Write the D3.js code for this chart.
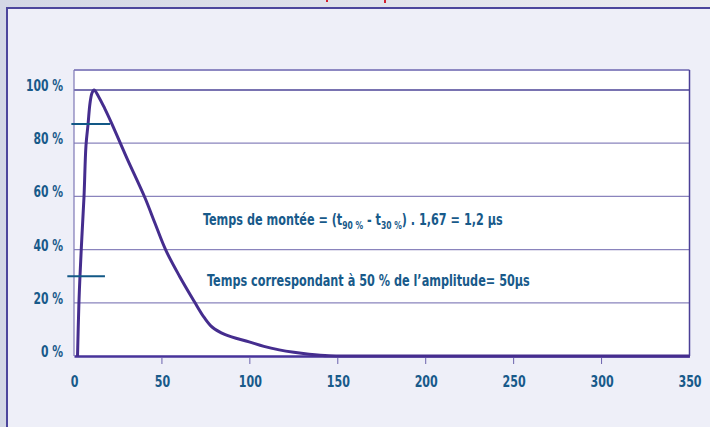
<!DOCTYPE html>
<html>
<head>
<meta charset="utf-8">
<script src="https://cdn.jsdelivr.net/npm/d3@7"></script>
<style>
  body { margin: 0; padding: 0; }
  svg { display: block; }
  text { font-family: "DejaVu Sans Condensed", "Liberation Sans Narrow", sans-serif; font-weight: bold; fill: #185a8a; }
</style>
</head>
<body>
<div id="vis"></div>
<script>
// curve: time (µs) vs amplitude (%)
var timeUs =       [2, 2.8, 3.4, 4.5, 5.7, 6.8, 8,    9.1, 10.2, 11.4, 14,   17.5, 21.6, 30,   40.4, 46, 52.2, 60, 68.3, 74, 78.5, 86,  99.6, 108, 116.7, 125, 133.7, 145, 160, 200, 250, 300, 350];
var amplitudePct = [0, 20,  30,  45,  60,  79,  87.2, 95,  98.8, 100,  97.5, 93,   87.2, 74.5, 59.4, 50, 39.8, 30, 20.6, 14.5, 10.9, 8,   5.3,  3.6, 2.3,   1.4, 0.7,   0.1, 0,   0,   0,   0,   0];

var yTicks = [0, 20, 40, 60, 80, 100];
var xTicks = [0, 50, 100, 150, 200, 250, 300, 350];

// the two short level marks (amplitude %, from time, to time)
var markLevels = [87.2, 30];
var markFrom = [-1.5, -3.8];
var markTo = [20.5, 17.6];

var W = 710, H = 427;
var plotLeft = 74, plotRight = 689.5, plotTop = 70, plotBottom = 356;

var x = d3.scaleLinear().domain([0, 350]).range([plotLeft, plotRight]);
var y = d3.scaleLinear().domain([0, 100]).range([plotBottom, 90]);

// condensed look: squeeze a text horizontally
function narrow(sel, k) {
  sel.each(function() {
    var w = this.getComputedTextLength();
    d3.select(this).attr("textLength", w * k).attr("lengthAdjust", "spacingAndGlyphs");
  });
}

// squeeze a whole group so that it is `width` wide, starting at (x0, y0)
function fitWidth(g, x0, y0, width) {
  var b = g.node().getBBox();
  g.attr("transform", "translate(" + x0 + "," + y0 + ") scale(" + (width / b.width) + ",1)");
}

var svg = d3.select("#vis").append("svg")
    .attr("width", W)
    .attr("height", H);

var defs = svg.append("defs");
var grad = defs.append("linearGradient").attr("id", "outer").attr("x1", "0").attr("x2", "1").attr("y1", "0").attr("y2", "0");
grad.append("stop").attr("offset", "0").attr("stop-color", "#d3d7e5");
grad.append("stop").attr("offset", "1").attr("stop-color", "#ececf0");

// outer page background and panel
svg.append("rect").attr("width", W).attr("height", H).attr("fill", "url(#outer)");
svg.append("rect").attr("x", 7).attr("y", 8).attr("width", W).attr("height", H)
    .attr("fill", "#eeeff8");
svg.append("line").attr("x1", 6).attr("x2", W).attr("y1", 8).attr("y2", 8)
    .attr("stroke", "#4c469c").attr("stroke-width", 2);
svg.append("line").attr("x1", 7).attr("x2", 7).attr("y1", 8).attr("y2", H)
    .attr("stroke", "#4c469c").attr("stroke-width", 2);

// bits of the cropped red heading above the frame
svg.append("rect").attr("x", 326).attr("y", 0).attr("width", 2).attr("height", 2).attr("fill", "#d2202f");
svg.append("rect").attr("x", 384).attr("y", 0).attr("width", 2).attr("height", 3).attr("fill", "#d2202f");

// plot area
svg.append("rect")
    .attr("x", plotLeft).attr("y", plotTop)
    .attr("width", plotRight - plotLeft).attr("height", plotBottom - plotTop)
    .attr("fill", "#ffffff");

// grid
svg.append("g").selectAll("line")
    .data(yTicks.filter(function(d) { return d > 0; }))
  .enter().append("line")
    .attr("x1", plotLeft).attr("x2", plotRight)
    .attr("y1", function(d) { return y(d); })
    .attr("y2", function(d) { return y(d); })
    .attr("stroke", function(d) { return d == 100 ? "#4d4597" : "#8a84bd"; })
    .attr("stroke-width", 1.3);

// frame
svg.append("line").attr("x1", plotLeft).attr("x2", plotRight).attr("y1", plotTop).attr("y2", plotTop)
    .attr("stroke", "#8d88c2").attr("stroke-width", 2);
svg.append("line").attr("x1", plotLeft).attr("x2", plotLeft).attr("y1", plotTop).attr("y2", plotBottom)
    .attr("stroke", "#7e77b6").attr("stroke-width", 1.2);
svg.append("line").attr("x1", plotRight).attr("x2", plotRight).attr("y1", plotTop).attr("y2", plotBottom)
    .attr("stroke", "#4a3f96").attr("stroke-width", 1.5);

// x axis
var xAxis = d3.axisBottom(x)
    .tickValues(xTicks)
    .tickSize(0)
    .tickPadding(20)
    .tickFormat(d3.format("d"));

var gx = svg.append("g")
    .attr("transform", "translate(0," + plotBottom + ")")
    .call(xAxis);
gx.select(".domain").attr("stroke", "#47339a").attr("stroke-width", 2.5);
gx.selectAll(".tick text").style("font-size", "15px").attr("fill", null).call(narrow, 0.82);

svg.append("g").selectAll("line")
    .data(xTicks.filter(function(d) { return d > 0 && d < 350; }))
  .enter().append("line")
    .attr("x1", function(d) { return x(d); })
    .attr("x2", function(d) { return x(d); })
    .attr("y1", plotBottom + 2).attr("y2", plotBottom + 8)
    .attr("stroke", "#6b62ad").attr("stroke-width", 1);

// y labels
svg.append("g").selectAll("text")
    .data(yTicks)
  .enter().append("text")
    .attr("x", 63)
    .attr("y", function(d) { return y(d) + 1; })
    .attr("text-anchor", "end")
    .style("font-size", "15px")
    .text(function(d) { return d + " %"; })
    .call(narrow, 0.8);

// the wave
var line = d3.line()
    .x(function(d, i) { return x(timeUs[i]); })
    .y(function(d) { return y(d); })
    .curve(d3.curveCatmullRom.alpha(0.5));

svg.append("path")
    .datum(amplitudePct)
    .attr("d", line)
    .attr("fill", "none")
    .attr("stroke", "#452d8e")
    .attr("stroke-width", 3)
    .attr("stroke-linejoin", "round");

// level marks
svg.append("g").selectAll("line")
    .data(markLevels)
  .enter().append("line")
    .attr("x1", function(d, i) { return x(markFrom[i]); })
    .attr("x2", function(d, i) { return x(markTo[i]); })
    .attr("y1", function(d) { return y(d); })
    .attr("y2", function(d) { return y(d); })
    .attr("stroke", "#125886")
    .attr("stroke-width", 2);

// annotations
var g1 = svg.append("g");
var t1 = g1.append("text").attr("x", 0).attr("y", 0).style("font-size", "15.5px");
t1.append("tspan").text("Temps de montée = (t");
t1.append("tspan").attr("dy", 4).style("font-size", "10.5px").text("90 %");
t1.append("tspan").attr("dy", -4).text(" - t");
t1.append("tspan").attr("dy", 4).style("font-size", "10.5px").text("30 %");
t1.append("tspan").attr("dy", -4).text(") . 1,67 = 1,2 µs");
fitWidth(g1, 203, 225, 300);

var g2 = svg.append("g");
g2.append("text").attr("x", 0).attr("y", 0).style("font-size", "15.5px")
    .text("Temps correspondant à 50 % de l’amplitude= 50µs");
fitWidth(g2, 207, 286, 323);
</script>
</body>
</html>
